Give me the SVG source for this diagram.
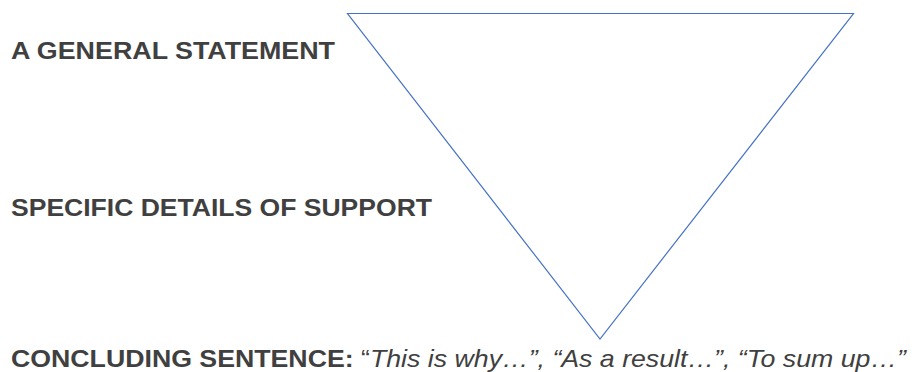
<svg xmlns="http://www.w3.org/2000/svg" width="912" height="372" viewBox="0 0 912 372">
<style>
.lbl{font-family:"Liberation Sans",Arial,sans-serif;font-size:24px;fill:#404040}
.b{font-weight:bold}
.i{font-style:italic}
.tri{fill:none;stroke:#4472C4;stroke-width:1.2}
</style>
<rect width="912" height="372" fill="#ffffff"/>
<g id="triangle">
<polygon class="tri" points="347.5,13.5 853.5,13.5 600,339"/>
</g>
<g id="general-statement">
<text class="lbl b" x="11" y="59.3" textLength="324" lengthAdjust="spacingAndGlyphs">A GENERAL STATEMENT</text>
</g>
<g id="specific-details">
<text class="lbl b" x="11" y="216" textLength="421" lengthAdjust="spacingAndGlyphs">SPECIFIC DETAILS OF SUPPORT</text>
</g>
<g id="concluding-sentence">
<text class="lbl" x="11" y="366.7" textLength="895" lengthAdjust="spacingAndGlyphs"><tspan class="b">CONCLUDING SENTENCE:</tspan> “<tspan class="i">This is why…”, “As a result…”, “To sum up…”</tspan></text>
</g>
</svg>
